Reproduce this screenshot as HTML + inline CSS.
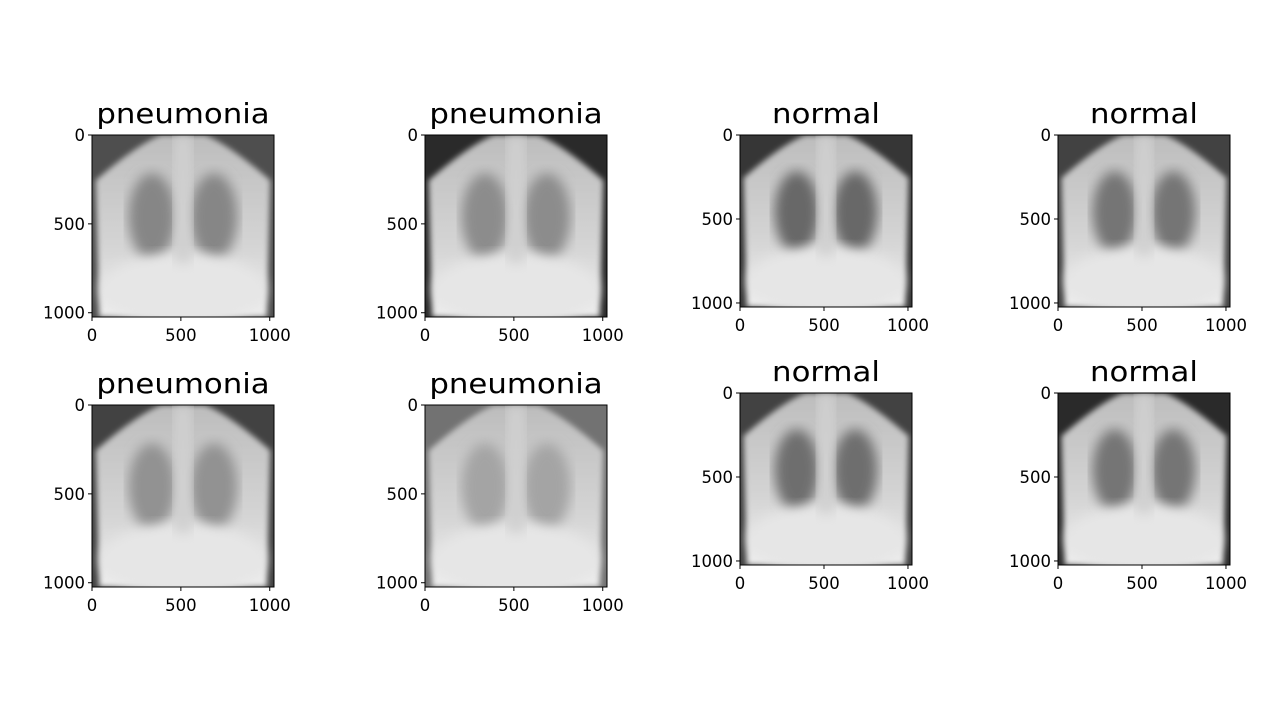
<!DOCTYPE html>
<html><head><meta charset="utf-8"><style>
html,body{margin:0;padding:0;background:#fff;}
svg{display:block;font-family:"DejaVu Sans","Liberation Sans",sans-serif;}
</style></head>
<body>
<svg id="fig" width="1280" height="719" viewBox="0 0 1280 719">
<defs>
<filter id="blur6"><feGaussianBlur stdDeviation="6"/></filter>
<filter id="blur3"><feGaussianBlur stdDeviation="3"/></filter>
<linearGradient id="bodyG" x1="0" y1="0" x2="0" y2="1">
<stop offset="0" stop-color="#bdbdbd"/><stop offset="0.6" stop-color="#d4d4d4"/><stop offset="1" stop-color="#eeeeee"/></linearGradient>
</defs>
</svg>
<script>
const titles=["pneumonia","pneumonia","normal","normal","pneumonia","pneumonia","normal","normal"];
const tickValues=[0,500,1000];
const imgExtent=1024;
const lungDark=[0.55,0.5,0.8,0.7,0.45,0.3,0.75,0.7];
const bgDark=[0.6,0.9,0.8,0.7,0.7,0.3,0.7,0.9];
const layout=[[92,135,182],[425,135,182],[740,135,172],[1058,135,172],[92,405,182],[425,405,182],[740,393,172],[1058,393,172]];
const NS="http://www.w3.org/2000/svg";
const svg=document.getElementById('fig');
function mk(tag,attrs,parent){const e=document.createElementNS(NS,tag);for(const k in attrs)e.setAttribute(k,attrs[k]);parent.appendChild(e);return e;}
titles.forEach((t,i)=>{
  const [x0,y0,s]=layout[i];
  const sc=v=>v/imgExtent*s;
  const g=mk('g',{},svg);
  
  
  const cid='clip'+i;
  const cp=mk('clipPath',{id:cid},g);
  mk('rect',{x:x0,y:y0,width:s,height:s},cp);
  const im=mk('g',{'clip-path':'url(#'+cid+')'},g);
  
  
  const bg=Math.round(30+ (1-bgDark[i])*120);
  mk('rect',{x:x0,y:y0,width:s,height:s,fill:`rgb(${bg},${bg},${bg})`},im);
  mk('path',{d:`M${x0+s*0.02} ${y0+s*0.25} Q${x0+s*0.25} ${y0+s*0.05} ${x0+s*0.38} ${y0} L${x0+s*0.62} ${y0} Q${x0+s*0.75} ${y0+s*0.05} ${x0+s*0.98} ${y0+s*0.25} L${x0+s*0.96} ${y0+s} L${x0+s*0.04} ${y0+s} Z`,fill:'url(#bodyG)',filter:'url(#blur3)'},im);
  const ld=lungDark[i];
  const c=Math.round(200-ld*120);
  const lf=`rgb(${c},${c},${c})`;
  mk('ellipse',{cx:x0+s*0.33,cy:y0+s*0.45,rx:s*0.13,ry:s*0.24,fill:lf,filter:'url(#blur6)'},im);
  mk('ellipse',{cx:x0+s*0.67,cy:y0+s*0.45,rx:s*0.13,ry:s*0.24,fill:lf,filter:'url(#blur6)'},im);
  mk('ellipse',{cx:x0+s*0.5,cy:y0+s*0.85,rx:s*0.45,ry:s*0.2,fill:'#e6e6e6',filter:'url(#blur6)'},im);
  mk('rect',{x:x0+s*0.45,y:y0,width:s*0.1,height:s*0.7,fill:'#d0d0d0',filter:'url(#blur6)'},im);
  const fr=mk('rect',{x:x0,y:y0,width:s,height:s,fill:'none',stroke:'#000','stroke-width':1},g);
  
  
  const cx=x0+s/2;
  const tt=mk('text',{x:cx,y:y0-12,'text-anchor':'middle','font-size':'28',fill:'#000',transform:`translate(${cx},0) scale(1.1,1) translate(${-cx},0)`},g);
  tt.textContent=t;
  
  
  tickValues.forEach(v=>{
    const ty=y0+sc(v);
    mk('line',{x1:x0-4,x2:x0,y1:ty,y2:ty,stroke:'#000'},g);
    const yl=mk('text',{x:x0-7,y:ty+6,'text-anchor':'end','font-size':'16.5',fill:'#000'},g);
    yl.textContent=v;
    
    
    const tx=x0+sc(v);
    mk('line',{x1:tx,x2:tx,y1:y0+s,y2:y0+s+4,stroke:'#000'},g);
    const xl=mk('text',{x:tx,y:y0+s+24,'text-anchor':'middle','font-size':'16.5',fill:'#000'},g);
    xl.textContent=v;
    
    
  });
});
</script>
</body></html>
